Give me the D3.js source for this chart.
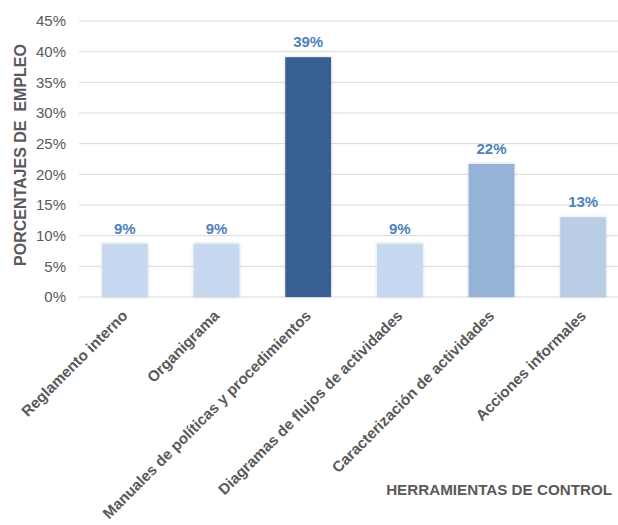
<!DOCTYPE html>
<html>
<head>
<meta charset="utf-8">
<script src="https://cdn.jsdelivr.net/npm/d3@7"></script>
<style>
  body { margin: 0; background: #fff; }
  text { font-family: "Liberation Sans", Arial, sans-serif; }
</style>
</head>
<body>
<div id="viz-container"></div>
<script>
// datos (n = 23)
const categories = ["Reglamento interno", "Organigrama", "Manuales de políticas y procedimientos",
  "Diagramas de flujos de actividades", "Caracterización de actividades", "Acciones informales"];
const values = [8.7, 8.7, 39.1, 8.7, 21.7, 13.0];
const valueLabels = ["9%", "9%", "39%", "9%", "22%", "13%"];
const barColors = ["#c6d9f0", "#c6d9f0", "#376092", "#c6d9f0", "#95b3d7", "#b9cde5"];
const yTicks = [0, 5, 10, 15, 20, 25, 30, 35, 40, 45];

const W = 618, H = 525;
const plotLeft = 79, plotRight = 629, plotTop = 21, plotBottom = 297;

const viz = d3.select('#viz-container')
  .append('svg')
    .attr("width", W)
    .attr("height", H)
    .attr("id", "viz");

const defs = viz.append("defs");
const shadow = defs.append("filter").attr("id", "shadow")
  .attr("x", "-20%").attr("y", "-20%").attr("width", "140%").attr("height", "140%");
shadow.append("feDropShadow").attr("dx", 0).attr("dy", 0).attr("stdDeviation", 1.5)
  .attr("flood-color", "#000").attr("flood-opacity", 0.18);

const x = d3.scaleBand().domain(categories).range([plotLeft, plotRight]).paddingInner(0.5).paddingOuter(0.25);
const y = d3.scaleLinear().domain([0, 45]).range([plotBottom, plotTop]);

// grid
viz.append("g").selectAll("line").data(yTicks).enter()
  .append("line")
    .attr("x1", plotLeft).attr("x2", W)
    .attr("y1", d => y(d)).attr("y2", d => y(d))
    .attr("stroke", "#d9d9d9").attr("stroke-width", 1);

// y tick labels
viz.append("g").selectAll("text").data(yTicks).enter()
  .append("text")
    .attr("x", 66).attr("y", d => y(d))
    .attr("dy", "0.35em")
    .attr("text-anchor", "end")
    .attr("font-size", 15)
    .attr("fill", "#595959")
    .text(d => d + "%");

// bars
viz.append("g").selectAll("rect").data(values).enter()
  .append("rect")
    .attr("x", (d, i) => x(categories[i]))
    .attr("width", x.bandwidth())
    .attr("y", d => y(d))
    .attr("height", d => y(0) - y(d))
    .attr("fill", (d, i) => barColors[i])
    .attr("filter", "url(#shadow)");

// data labels
viz.append("g").selectAll("text").data(values).enter()
  .append("text")
    .attr("x", (d, i) => x(categories[i]) + x.bandwidth() / 2)
    .attr("y", d => y(d) - 10)
    .attr("text-anchor", "middle")
    .attr("font-size", 15)
    .attr("font-weight", "bold")
    .attr("fill", "#4f81bd")
    .text((d, i) => valueLabels[i]);

// x labels
viz.append("g").selectAll("text").data(categories).enter()
  .append("text")
    .attr("transform", d => `translate(${x(d) + x.bandwidth() / 2},${plotBottom + 16}) rotate(-45)`)
    .attr("text-anchor", "end")
    .attr("dy", "0.35em")
    .attr("font-size", 15.2)
    .attr("font-weight", "bold")
    .attr("fill", "#595959")
    .text(d => d);

// axis titles
viz.append("text")
  .attr("transform", `translate(26,155) rotate(-90)`)
  .attr("text-anchor", "middle")
  .attr("font-size", 16)
  .attr("font-weight", "bold")
  .attr("fill", "#595959")
  .style("white-space", "pre")
  .text("PORCENTAJES DE  EMPLEO");

viz.append("text")
  .attr("x", 612).attr("y", 495)
  .attr("text-anchor", "end")
  .attr("font-size", 15.2)
  .attr("font-weight", "bold")
  .attr("fill", "#595959")
  .text("HERRAMIENTAS DE CONTROL");
</script>
</body>
</html>
